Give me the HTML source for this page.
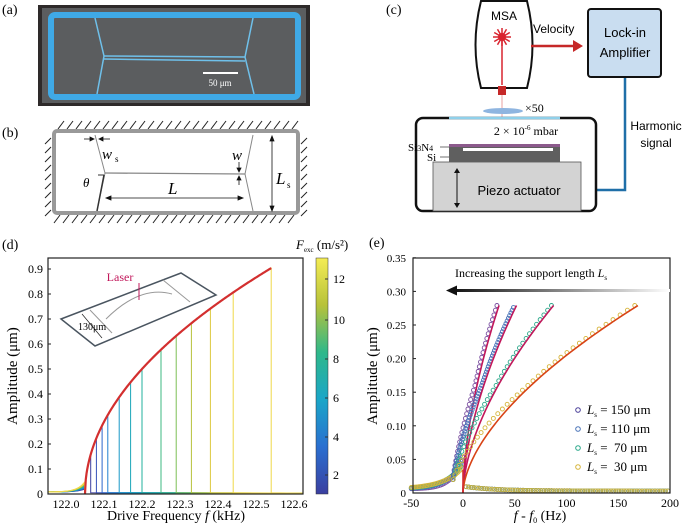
<!DOCTYPE html>
<html><head><meta charset="utf-8">
<style>
html,body{margin:0;padding:0;background:#fff;}
svg{display:block;}
text{font-family:"Liberation Serif",serif;}
.s{font-family:"Liberation Sans","DejaVu Sans",sans-serif;}
</style></head><body>
<svg id="g" width="685" height="529" viewBox="0 0 685 529" xmlns="http://www.w3.org/2000/svg">
<defs>
<linearGradient id="vir" x1="0" y1="1" x2="0" y2="0">
<stop offset="0" stop-color="#3b3fa0"/><stop offset="0.2" stop-color="#2a6fd0"/><stop offset="0.4" stop-color="#1aa6c8"/><stop offset="0.6" stop-color="#2fb88a"/><stop offset="0.8" stop-color="#b7c23a"/><stop offset="1" stop-color="#f4ec54"/>
</linearGradient>
<linearGradient id="arw" x1="0" x2="1"><stop offset="0" stop-color="#111"/><stop offset="1" stop-color="#fff"/></linearGradient>
</defs>
<text x="2" y="14" font-size="14">(a)</text>
<text x="2" y="137" font-size="14">(b)</text>
<text x="386" y="14" font-size="14">(c)</text>
<text x="2" y="249" font-size="14">(d)</text>
<text x="369" y="247" font-size="14">(e)</text>

<!-- (a) -->
<rect x="38" y="5" width="272" height="101" fill="#2e2a2a"/>
<rect x="42" y="8" width="264" height="95" fill="#5b5d5f"/>
<rect x="51" y="15" width="247" height="82" rx="4" fill="none" stroke="#3fa9e6" stroke-width="6"/>
<g stroke="#6fc0ea" stroke-width="1.5" fill="none">
<polyline points="95,18 104,56 97,94"/><polyline points="253,18 245,57 254,94"/>
<line x1="104" y1="56" x2="245" y2="57"/><line x1="104" y1="59" x2="245" y2="61"/>
</g>
<line x1="203" y1="73" x2="238" y2="73" stroke="#fff" stroke-width="2"/>
<text x="220" y="86" font-size="9" fill="#fff" text-anchor="middle">50 μm</text>

<!-- (b) -->
<g id="hatch" stroke="#222" stroke-width="1"></g>
<rect x="54" y="131" width="244" height="82" rx="3" fill="#fff" stroke="#999" stroke-width="4"/>
<g stroke="#888" fill="none" stroke-width="1">
<polyline points="95,135 105,173 97,211"/><polyline points="253,135 245,174 253,211"/>
<line x1="105" y1="173" x2="245" y2="174" stroke-width="1.3"/>
</g>
<line x1="98" y1="175" x2="104" y2="175" stroke="#333"/><line x1="104" y1="175" x2="97" y2="211" stroke="#333" stroke-width="1.5"/>
<text x="83" y="187" font-size="13" font-style="italic">θ</text>
<g stroke="#111" stroke-width="0.8" fill="#111">
<line x1="107" y1="198" x2="242" y2="198"/><path d="M106,198 l5,-2 v4z M243,198 l-5,-2 v4z"/>
<line x1="272" y1="137" x2="272" y2="210"/><path d="M272,136 l-2,5 h4z M272,211 l-2,-5 h4z"/>
<line x1="84" y1="139" x2="93" y2="139"/><path d="M94,139 l-4,-2 v4z"/><line x1="100" y1="139" x2="110" y2="139"/><path d="M99,139 l4,-2 v4z"/>
<line x1="239" y1="162" x2="239" y2="170"/><path d="M239,172 l-2,-4 h4z"/><line x1="239" y1="178" x2="239" y2="185"/><path d="M239,176 l-2,4 h4z"/>
</g>
<text x="102" y="159" font-size="15" font-style="italic">w</text><text x="115" y="162" font-size="9">s</text>
<text x="232" y="160" font-size="15" font-style="italic">w</text>
<text x="168" y="194" font-size="17" font-style="italic">L</text>
<text x="276" y="184" font-size="17" font-style="italic">L</text><text x="287" y="188" font-size="9">s</text>

<!-- (c) -->
<path d="M481,1 Q470,45 481,88 L527,88 Q538,45 527,1 Z" fill="#fff" stroke="#111" stroke-width="2"/>
<text x="504" y="20" font-size="12" text-anchor="middle" class="s">MSA</text>
<g stroke="#d9242f" stroke-width="1.5">
<line x1="502" y1="38" x2="502" y2="85"/>
<g id="star"></g>
</g>
<circle cx="502" cy="37" r="4" fill="#d9242f"/>
<rect x="498" y="86" width="8" height="9" fill="#c62828"/>
<line x1="502" y1="95" x2="502" y2="143" stroke="#e58a8a" stroke-width="0.8"/>
<ellipse cx="503" cy="111" rx="20" ry="3" fill="#8fb5e0"/>
<text x="525" y="112" font-size="12">×50</text>
<line x1="531" y1="46" x2="574" y2="46" stroke="#c62828" stroke-width="2.5"/><path d="M583,46 l-10,-6 v12z" fill="#c62828"/>
<text x="533" y="33" font-size="12" class="s">Velocity</text>
<rect x="588" y="9" width="73" height="68" rx="3" fill="#c9ddf0" stroke="#111" stroke-width="2"/>
<text x="625" y="37" font-size="13" text-anchor="middle" class="s">Lock-in</text>
<text x="625" y="57" font-size="13" text-anchor="middle" class="s">Amplifier</text>
<polyline points="625,78 625,190 590,190" fill="none" stroke="#1f6fa8" stroke-width="2.5"/><path d="M579,190 l10,-5 v10z" fill="#1f6fa8"/>
<text x="656" y="130" font-size="12" text-anchor="middle" class="s">Harmonic</text>
<text x="656" y="147" font-size="12" text-anchor="middle" class="s">signal</text>
<rect x="416" y="118" width="180" height="93" rx="7" fill="#fff" stroke="#111" stroke-width="2.5"/>
<line x1="449" y1="118" x2="560" y2="118" stroke="#8fd0ea" stroke-width="2.5"/>
<text x="526" y="135" font-size="12" text-anchor="middle">2 × 10<tspan font-size="7" dy="-5">-6</tspan><tspan dy="5"> mbar</tspan></text>
<rect x="433" y="162" width="148" height="49" fill="#d3d3d3" stroke="#555" stroke-width="0.8"/>
<rect x="449" y="144" width="111" height="18" fill="#5f5f5f"/>
<rect x="449" y="144" width="111" height="3" fill="#8c5a8c"/>
<rect x="463" y="148" width="90" height="3" fill="#fff"/>
<text x="408" y="151" font-size="11">Si<tspan font-size="8">3</tspan>N<tspan font-size="8">4</tspan></text>
<line x1="440" y1="147" x2="449" y2="147" stroke="#333" stroke-width="0.7"/>
<text x="427" y="161" font-size="11">Si</text><line x1="440" y1="157" x2="449" y2="157" stroke="#333" stroke-width="0.7"/>
<line x1="457" y1="171" x2="457" y2="205" stroke="#111"/><path d="M457,168 l-3,5 h6z M457,208 l-3,-5 h6z" fill="#111"/>
<text x="519" y="195" font-size="13" text-anchor="middle" class="s">Piezo actuator</text>

<!-- (d) -->
<g id="dplot"></g>
<rect x="48" y="258" width="255" height="236" fill="none" stroke="#222" stroke-width="1.2"/>
<g font-size="12" text-anchor="end" id="dy"></g>
<g font-size="12" text-anchor="middle" id="dx"></g>
<text x="176" y="520" font-size="14" text-anchor="middle">Drive Frequency <tspan font-style="italic">f</tspan> (kHz)</text>
<text transform="translate(17,376) rotate(-90)" font-size="15" text-anchor="middle">Amplitude (μm)</text>
<polygon points="61,319 181,273 216,295 95,346" fill="#fff" fill-opacity="0.85" stroke="#4a5560" stroke-width="1.5"/>
<line x1="90" y1="310" x2="112" y2="333" stroke="#999"/><line x1="163" y1="280" x2="190" y2="302" stroke="#999"/>
<path d="M106,319 Q140,285 172,294" fill="none" stroke="#999"/>
<line x1="139" y1="283" x2="139" y2="300" stroke="#c2185b"/>
<text x="120" y="281" font-size="12" fill="#c2185b" text-anchor="middle">Laser</text>
<line x1="82" y1="314" x2="102" y2="338" stroke="#222" stroke-width="0.7"/>
<text x="78" y="330" font-size="10">130μm</text>
<rect x="316" y="258" width="12" height="236" fill="url(#vir)" stroke="#333" stroke-width="0.5"/>
<g font-size="12" id="cb"></g>
<text x="296" y="249" font-size="13"><tspan font-style="italic">F</tspan><tspan font-size="7" dy="3">exc</tspan><tspan dy="-3"> (m/s²)</tspan></text>

<!-- (e) -->
<g id="eplot"></g>
<rect x="413" y="258" width="257" height="235" fill="none" stroke="#222" stroke-width="1.2"/>
<g font-size="11" text-anchor="end" id="ey"></g>
<g font-size="12" text-anchor="middle" id="ex"></g>
<text x="540" y="520" font-size="14" text-anchor="middle"><tspan font-style="italic">f</tspan> - <tspan font-style="italic">f</tspan><tspan font-size="8" dy="3">0</tspan><tspan dy="-3"> (Hz)</tspan></text>
<text transform="translate(377,376) rotate(-90)" font-size="15" text-anchor="middle">Amplitude (μm)</text>
<text x="455" y="277" font-size="12">Increasing the support length <tspan font-style="italic">L</tspan><tspan font-size="7" dy="3">s</tspan></text>
<rect x="452" y="289" width="218" height="3" fill="url(#arw)"/><path d="M446,290.5 l11,-5 v10z" fill="#111"/>
<g font-size="13" id="leg"></g>
</svg>
<script>
var NS="http://www.w3.org/2000/svg";
function el(p,t,a,tx){var e=document.createElementNS(NS,t);for(var k in a)e.setAttribute(k,a[k]);if(tx!==undefined)e.textContent=tx;document.getElementById(p).appendChild(e);return e;}
for(var x=58;x<300;x+=9){el("hatch","line",{x1:x,y1:129,x2:x+6,y2:121});el("hatch","line",{x1:x-4,y1:223,x2:x+2,y2:215});}
for(var y=138;y<215;y+=9){el("hatch","line",{x1:45,y1:y+6,x2:51,y2:y});el("hatch","line",{x1:301,y1:y+6,x2:307,y2:y});}
for(var i=0;i<12;i++){var a=i*Math.PI/6;el("star","line",{x1:502,y1:37,x2:502+9*Math.cos(a),y2:37+9*Math.sin(a)});}
function dX(f){return 66+(f-122)*380;} function dY(a){return 494-a*250;}
for(var i=0;i<=9;i++){var v=i/10;el("dy","text",{x:43,y:dY(v)+4},i==0?"0":v.toFixed(1));el("dplot","line",{x1:48,y1:dY(v),x2:51,y2:dY(v),stroke:"#222"});}
for(var i=0;i<=6;i++){var f=122+i/10;el("dx","text",{x:dX(f),y:508},f.toFixed(1));}
var cols=["#3b3fa0","#3550b8","#2b66cc","#2180d0","#1a98c8","#1aa6b8","#22b09c","#3cb880","#7cbf55","#b7c23a","#dcc93f","#f0d84a"];
var drops=[122.065,122.08,122.095,122.11,122.14,122.17,122.2,122.25,122.29,122.33,122.38,122.44,122.54];
function amp(f){var d=f-122.05;return d<=0?0:Math.min(0.95,Math.sqrt(d/0.6));}
drops.forEach(function(fd,i){var c=cols[Math.min(i,11)];var pts=[];
 for(var f=121.953;f<122.05;f+=0.003){var d=122.05-f;pts.push(dX(f)+","+dY(0.008+0.03*Math.exp(-d/0.02)*(0.4+i/12)));}
 for(var f=122.05;f<=fd;f+=0.003){pts.push(dX(f)+","+dY(amp(f)));}
 pts.push(dX(fd)+","+dY(amp(fd)));pts.push(dX(fd)+","+dY(0.005));pts.push("303,"+dY(0.003));
 el("dplot","polyline",{points:pts.join(" "),fill:"none",stroke:c,"stroke-width":1});});
var rp=[];for(var f=122.05;f<=122.54;f+=0.002)rp.push(dX(f)+","+dY(amp(f)));
el("dplot","polyline",{points:rp.join(" "),fill:"none",stroke:"#d32f2f","stroke-width":2.2});
[[2,475],[4,437],[6,398],[8,359],[10,320],[12,279]].forEach(function(t){el("cb","text",{x:333,y:t[1]+4},t[0]);el("cb","line",{x1:325,y1:t[1],x2:328,y2:t[1],stroke:"#333"});});
function eX(h){return 463+h*1.035;} function eY(a){return 493-a*672;}
for(var i=0;i<=7;i++){var v=i*0.05;el("ey","text",{x:406,y:eY(v)+4},i==0?"0":v.toFixed(2));el("eplot","line",{x1:413,y1:eY(v),x2:416,y2:eY(v),stroke:"#222"});}
[-50,0,50,100,150,200].forEach(function(h){el("ex","text",{x:eX(h),y:507},h);});
var sets=[[35,"#7a4fa0"],[52,"#4a74b8"],[88,"#2aa88a"],[170,"#d6b43a"]];
sets.forEach(function(s,j){for(var h=-50;h<0;h+=1.5){var a=0.006+(0.05-j*0.006)*Math.exp(h/(10+j*3));el("eplot","circle",{cx:eX(h),cy:eY(a),r:2,fill:"none",stroke:s[1],"stroke-width":0.8});}
 for(var h=3;h<200;h+=2.5){el("eplot","circle",{cx:eX(h),cy:eY(0.003+0.007*Math.exp(-h/30)),r:2,fill:"none",stroke:s[1],"stroke-width":0.8});}});
sets.forEach(function(s,j){var fmax=s[0];var pts=[];
 for(var a=0;a<=0.281;a+=0.003){var h=fmax*Math.pow(a/0.28,1.7);pts.push(eX(h)+","+eY(a));}
 for(var a=0.02;a<=0.28;a+=(j==1?0.004:0.007)){var h=fmax*Math.pow(a/0.28,1.7)-(j==3?3:2)-(a<0.16?(0.16-a)*60:0);el("eplot","circle",{cx:eX(h),cy:eY(a),r:2,fill:"none",stroke:s[1],"stroke-width":0.9});}
 el("eplot","polyline",{points:pts.join(" "),fill:"none",stroke:j==3?"#d84315":"#c2185b","stroke-width":1.6});});
el("eplot","line",{x1:463,y1:493,x2:463,y2:470,stroke:"#d32f2f","stroke-width":1.6});
[["150","#4a3f98",414],["110","#4a74b8",433],["70","#2aa88a",452],["30","#d6b43a",471]].forEach(function(r){
 el("leg","circle",{cx:578,cy:r[2]-4,r:2.3,fill:"none",stroke:r[1],"stroke-width":1});
 var t=el("leg","text",{x:587,y:r[2]});t.innerHTML='<tspan font-style="italic">L</tspan><tspan font-size="7" dy="3">s</tspan><tspan dy="-3"> = '+(r[0].length<3?"&#160;":"")+r[0]+'  μm</tspan>';});
</script>
</body></html>
